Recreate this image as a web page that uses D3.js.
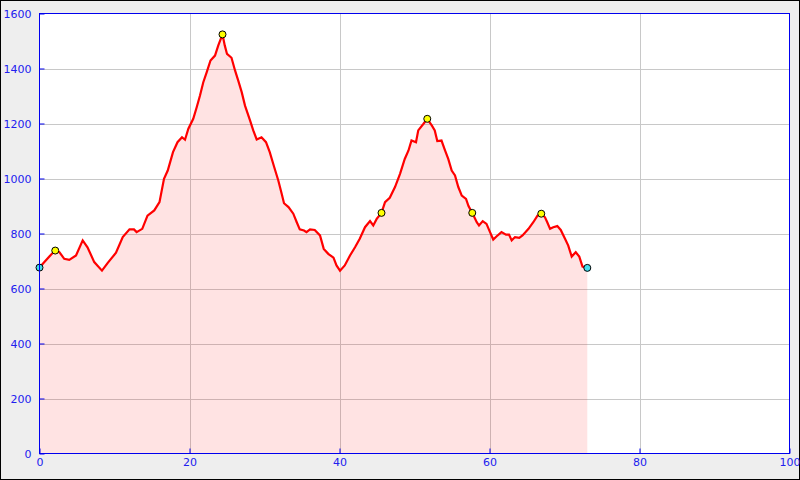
<!DOCTYPE html>
<html><head><meta charset="utf-8">
<script src="https://cdn.jsdelivr.net/npm/d3@7"></script>
<style>html,body{margin:0;padding:0;background:#fff;}svg{display:block;}</style>
</head><body><svg id="c" width="800" height="480"></svg>
<script>
const distance = [0,0.65,1.53,2.1,2.65,3.3,3.97,4.87,5.76,6.4,7.3,8.33,9.1,10.2,11.1,12.0,12.6,12.95,13.7,14.4,15.3,16.0,16.6,17.1,17.8,18.4,19.0,19.4,19.85,20.5,20.96,21.4,21.84,22.3,22.8,23.4,23.84,24.4,24.7,25.0,25.6,26.07,26.5,26.96,27.4,28.07,28.5,28.96,29.6,30.2,30.7,31.3,31.84,32.3,32.6,33.2,33.84,34.3,34.7,35.27,35.6,36.07,36.7,37.4,37.9,38.5,39.2,39.6,40.07,40.7,41.4,42.07,42.7,43.4,44.07,44.5,44.96,45.6,46.07,46.7,47.4,48.07,48.7,49.2,49.6,50.2,50.5,51.2,51.7,52.3,52.7,53.04,53.6,54.07,54.5,54.96,55.4,55.84,56.3,56.87,57.2,57.7,58.3,58.6,59.1,59.6,60.07,60.5,60.96,61.6,62.2,62.6,62.96,63.4,63.97,64.4,65.2,65.84,66.4,66.9,67.4,67.7,68.07,68.5,69.04,69.5,70.07,70.5,70.96,71.5,71.97,72.4,73.04];
const elevation = [676,696,723,738,732,708,704,720,775,750,696,665,693,730,787,815,815,805,817,865,884,914,999,1029,1096,1132,1150,1141,1181,1217,1259,1302,1350,1387,1429,1447,1484,1524,1484,1453,1439,1393,1356,1314,1265,1211,1175,1142,1150,1132,1096,1041,993,944,910,896,872,841,815,811,805,815,813,793,744,726,712,684,665,684,720,750,781,823,845,829,853,875,914,930,969,1017,1071,1102,1138,1132,1175,1199,1217,1193,1175,1136,1138,1102,1071,1029,1011,969,938,926,900,875,841,829,845,835,805,778,790,805,796,796,775,787,784,793,817,841,865,872,859,841,817,823,827,813,781,756,716,732,716,680,675];
const markerKm = [0,2.1,24.4,45.6,51.7,57.7,66.9,73.04];
const markerElev = [676,738,1524,875,1217,875,872,675];
const markerType = ["end","peak","peak","peak","peak","peak","peak","end"];
const xTicks = [0,20,40,60,80,100];
const yTicks = [0,200,400,600,800,1000,1200,1400,1600];

const svg = d3.select("#c");
const L=39.5,R=789.5,T=13.5,B=453.5;
svg.append("rect").attr("x",0.5).attr("y",0.5).attr("width",799).attr("height",479).attr("fill","#eeeeee").attr("stroke","#000");
svg.append("rect").attr("x",L).attr("y",T).attr("width",R-L).attr("height",B-T).attr("fill","#fff");
const x=d3.scaleLinear().domain([0,100]).range([L,R]);
const y=d3.scaleLinear().domain([0,1600]).range([B,T]);
const g=svg.append("g");
g.selectAll(".gx").data(xTicks.slice(1,-1)).join("line").attr("x1",d=>Math.round(x(d))+0.5).attr("x2",d=>Math.round(x(d))+0.5).attr("y1",T).attr("y2",B).attr("stroke","#c8c8c8");
g.selectAll(".gy").data(yTicks.slice(1,-1)).join("line").attr("y1",d=>Math.round(y(d))+0.5).attr("y2",d=>Math.round(y(d))+0.5).attr("x1",L).attr("x2",R).attr("stroke","#c8c8c8");
const data=distance.map((d,i)=>[d,elevation[i]]);
g.append("path").datum(data).attr("d",d3.area().x(d=>x(d[0])).y0(y(0)).y1(d=>y(d[1]))).attr("fill","rgba(255,0,0,0.11)");
g.append("path").datum(data).attr("d",d3.line().x(d=>x(d[0])).y(d=>y(d[1]))).attr("fill","none").attr("stroke","#ff0000").attr("stroke-width",2.2).attr("stroke-linejoin","miter");
g.selectAll(".m").data(markerKm.map((d,i)=>[d,markerElev[i],markerType[i]])).join("circle").attr("cx",d=>x(d[0])).attr("cy",d=>y(d[1])).attr("r",3.5).attr("fill",d=>d[2]==="end"?"#44ddee":"#ffff00").attr("stroke","#000").attr("stroke-width",1);
svg.append("rect").attr("x",L).attr("y",T).attr("width",R-L).attr("height",B-T).attr("fill","none").attr("stroke","#0000ee");
const yAxis=d3.axisLeft(y).tickValues(yTicks).tickSize(-5).tickPadding(8).tickFormat(d3.format("d"));
const xAxis=d3.axisBottom(x).tickValues(xTicks).tickSize(-5).tickPadding(8).tickFormat(d3.format("d"));
const ya=svg.append("g").attr("transform",`translate(${L},0)`).call(yAxis);
const xa=svg.append("g").attr("transform",`translate(0,${B})`).call(xAxis);
[ya,xa].forEach(a=>{a.select(".domain").remove();a.selectAll("line").attr("stroke","#0000ee");a.selectAll("text").attr("fill","#2020ee").attr("font-family","DejaVu Sans").attr("font-size",11);});
ya.selectAll("text").attr("x",-8);
xa.selectAll("text").attr("y",5).attr("dy","0.71em");
</script></body></html>
